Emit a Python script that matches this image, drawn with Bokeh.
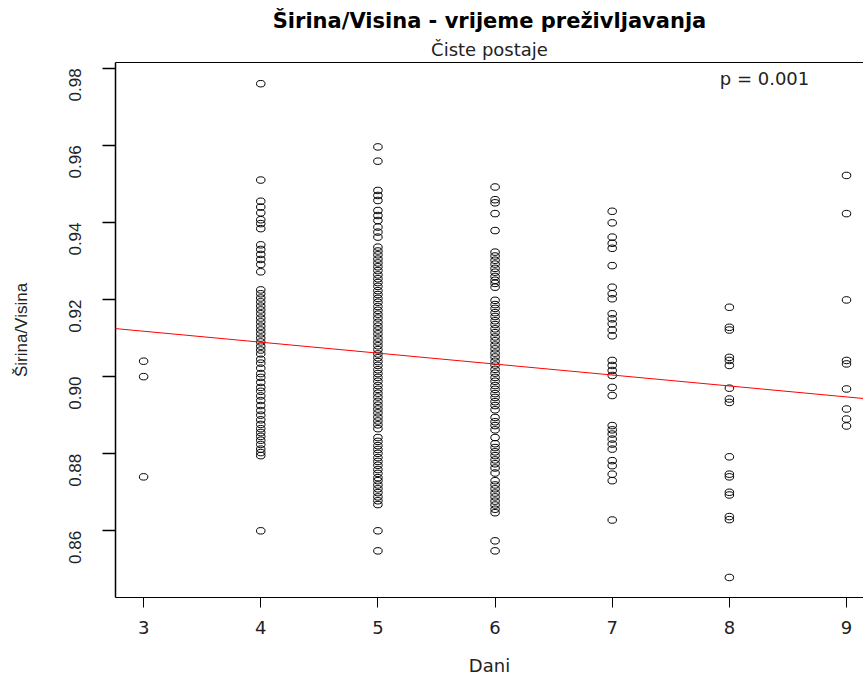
import math
from bokeh.plotting import figure
from bokeh.models import (Range1d, FixedTicker, LinearAxis, Title, Label, Slope,
                          PrintfTickFormatter, ColumnDataSource)
from bokeh.embed import file_html
from bokeh.resources import INLINE

# ---- data ----
days = [3, 4, 5, 6, 7, 8, 9]
x_ticks = [3, 4, 5, 6, 7, 8, 9]
y_ticks = [0.86, 0.88, 0.90, 0.92, 0.94, 0.96, 0.98]

ratio_day3 = [0.9040, 0.9000, 0.8740]
ratio_day4 = [0.9760, 0.9510, 0.9455, 0.9440, 0.9425, 0.9407, 0.9397, 0.9384,
              0.9342, 0.9330, 0.9317, 0.9304, 0.9291, 0.9272,
              0.9225, 0.9215, 0.9204, 0.9194, 0.9183, 0.9173, 0.9163, 0.9152,
              0.9142, 0.9131, 0.9121, 0.9111, 0.9100, 0.9090, 0.9079, 0.9069,
              0.9059, 0.9045, 0.9035, 0.9022, 0.9008, 0.8998, 0.8985, 0.8972,
              0.8962, 0.8950, 0.8938, 0.8925, 0.8912, 0.8900, 0.8888, 0.8876,
              0.8865, 0.8855, 0.8845, 0.8835, 0.8824, 0.8812, 0.8803, 0.8795,
              0.8600]
ratio_day5 = [0.9596, 0.9559, 0.9483, 0.9470, 0.9457, 0.9431, 0.9418, 0.9405,
              0.9388, 0.9375, 0.9362,
              0.9336, 0.9326, 0.9316, 0.9305, 0.9295, 0.9285, 0.9275, 0.9264,
              0.9254, 0.9244, 0.9234, 0.9223, 0.9213, 0.9203, 0.9193, 0.9182,
              0.9172, 0.9162, 0.9152, 0.9141, 0.9131, 0.9121, 0.9111, 0.9100,
              0.9090, 0.9080, 0.9070, 0.9059, 0.9049, 0.9039, 0.9029, 0.9018,
              0.9008, 0.8998, 0.8988, 0.8977, 0.8967, 0.8957, 0.8947, 0.8936,
              0.8926, 0.8916, 0.8906, 0.8895, 0.8885, 0.8875, 0.8865,
              0.8842, 0.8832, 0.8821, 0.8811, 0.8801, 0.8790, 0.8780, 0.8770,
              0.8759, 0.8749, 0.8738,
              0.8730, 0.8719, 0.8709, 0.8699, 0.8688, 0.8678, 0.8668,
              0.8600, 0.8548]
ratio_day6 = [0.9492, 0.9459, 0.9451, 0.9423, 0.9379,
              0.9323, 0.9313, 0.9302, 0.9292, 0.9281, 0.9271, 0.9260, 0.9250,
              0.9242, 0.9232,
              0.9198, 0.9187, 0.9177, 0.9166, 0.9156, 0.9145, 0.9135, 0.9124,
              0.9114, 0.9103, 0.9093, 0.9082, 0.9072, 0.9061, 0.9051, 0.9040,
              0.9030, 0.9019, 0.9009, 0.8998, 0.8988, 0.8977, 0.8967, 0.8956,
              0.8946, 0.8935, 0.8925, 0.8914,
              0.8894, 0.8883, 0.8873, 0.8862, 0.8842,
              0.8826, 0.8816, 0.8805, 0.8795, 0.8784, 0.8774, 0.8763, 0.8750,
              0.8730, 0.8719, 0.8709, 0.8698, 0.8688, 0.8677, 0.8667, 0.8656,
              0.8647, 0.8574, 0.8548]
ratio_day7 = [0.9429, 0.9399, 0.9362, 0.9346, 0.9333, 0.9288, 0.9232, 0.9215,
              0.9202, 0.9163, 0.9150, 0.9137, 0.9121, 0.9106, 0.9042, 0.9029,
              0.9016, 0.9003, 0.8972, 0.8951, 0.8873, 0.8862, 0.8851, 0.8838,
              0.8825, 0.8812, 0.8782, 0.8769, 0.8747, 0.8730, 0.8628]
ratio_day8 = [0.9180, 0.9128, 0.9121, 0.9050, 0.9042, 0.9029, 0.8970, 0.8942,
              0.8933, 0.8792, 0.8747, 0.8740, 0.8700, 0.8693, 0.8637, 0.8629,
              0.8479]
ratio_day9 = [0.9522, 0.9423, 0.9199, 0.9042, 0.9033, 0.8968, 0.8916, 0.8890,
              0.8872]

# fitted regression line
fit_intercept = 0.9203
fit_slope = -0.00284
p_text = "p = 0.001"

series = [ratio_day3, ratio_day4, ratio_day5, ratio_day6, ratio_day7,
          ratio_day8, ratio_day9]
xs, ys = [], []
for d, vals in zip(days, series):
    xs += [d] * len(vals)
    ys += vals
src = ColumnDataSource(dict(x=xs, y=ys))

HFONT = "DejaVu Sans"       # horizontal texts (reference is stretched sideways)
VFONT = "Liberation Sans"   # vertical texts

p = figure(width=863, height=678,
           x_range=Range1d(2.76, 9.145), y_range=Range1d(0.8427, 0.9815),
           output_backend="svg", toolbar_location=None,
           min_border_left=115, min_border_right=0,
           min_border_top=62, min_border_bottom=81)
p.outline_line_color = None
p.xgrid.visible = False
p.ygrid.visible = False
p.background_fill_color = "white"
p.border_fill_color = "white"

# x axis
xa = p.xaxis[0]
xa.ticker = FixedTicker(ticks=x_ticks)
xa.axis_line_color = "black"
xa.major_tick_line_color = "black"
xa.major_tick_out = 10
xa.major_tick_in = 0
xa.minor_tick_line_color = None
xa.major_label_text_font = HFONT
xa.major_label_text_font_size = "18px"
xa.major_label_text_color = "#222222"
xa.major_label_standoff = 13
xa.axis_label = "Dani"
xa.axis_label_text_font = HFONT
xa.axis_label_text_font_size = "18px"
xa.axis_label_text_font_style = "normal"
xa.axis_label_text_color = "#222222"
xa.axis_label_standoff = 18

# y axis
ya = p.yaxis[0]
ya.ticker = FixedTicker(ticks=y_ticks)
ya.formatter = PrintfTickFormatter(format="%.2f")
ya.axis_line_color = "black"
ya.axis_line_width = 1.5
ya.major_tick_line_color = "black"
ya.major_tick_line_width = 1.5
ya.major_tick_out = 13
ya.major_tick_in = 0
ya.minor_tick_line_color = None
ya.major_label_orientation = math.pi / 2
ya.major_label_text_font = VFONT
ya.major_label_text_font_size = "17px"
ya.major_label_text_color = "#222222"
ya.major_label_standoff = 27
ya.axis_label = "Širina/Visina"
ya.axis_label_text_font = VFONT
ya.axis_label_text_font_size = "17px"
ya.axis_label_text_font_style = "normal"
ya.axis_label_text_color = "#222222"
ya.axis_label_standoff = 30

# top border line of the plot box
top = LinearAxis(ticker=FixedTicker(ticks=[]), major_label_text_font_size="0px",
                 major_tick_line_color=None, minor_tick_line_color=None,
                 major_tick_out=0, major_label_standoff=0,
                 axis_line_color="black")
p.add_layout(top, "above")

sub = Title(text="Čiste postaje", align="center", text_font=HFONT,
            text_font_size="18px", text_font_style="normal",
            text_color="#222222", standoff=5, offset=5)
p.add_layout(sub, "above")
main = Title(text="Širina/Visina - vrijeme preživljavanja", align="center",
             text_font=HFONT, text_font_size="21px", text_font_style="bold",
             text_color="black", standoff=4, offset=5)
p.add_layout(main, "above")

p.ellipse(x="x", y="y", width=8.5, height=6.5, width_units="screen",
          height_units="screen", source=src, fill_color=None,
          line_color="black", line_width=1)

p.add_layout(Slope(gradient=fit_slope, y_intercept=fit_intercept,
                   line_color="red", line_width=1))

p.add_layout(Label(x=8.3, y=0.9774, text=p_text, text_align="center",
                   text_baseline="middle", text_font=HFONT,
                   text_font_size="18px", text_color="#222222"))

open("out.html", "w").write(file_html(p, INLINE))
